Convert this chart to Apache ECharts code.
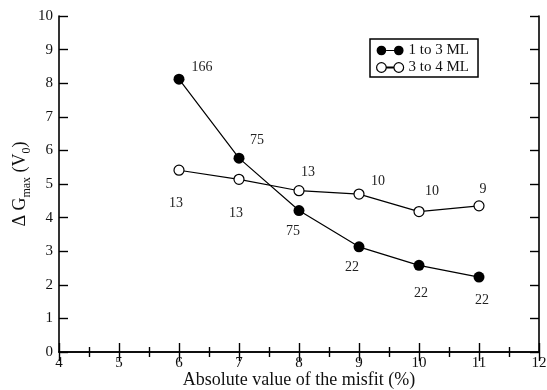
<!DOCTYPE html>
<html>
<head>
<meta charset="utf-8">
<script src="https://cdn.jsdelivr.net/npm/echarts@6/dist/echarts.min.js"></script>
<style>html,body{margin:0;padding:0;background:#fff}#c{width:547px;height:390px}</style>
</head>
<body>
<div id="c"></div>
<script>
// ---- data ----
const misfit = [6, 7, 8, 9, 10, 11];
const gA = [8.12, 5.77, 4.21, 3.13, 2.58, 2.23];   // 1 to 3 ML
const gB = [5.41, 5.14, 4.80, 4.70, 4.18, 4.35];   // 3 to 4 ML
const countsA = ['166', '75', '75', '22', '22', '22'];
const countsB = ['13', '13', '13', '10', '10', '9'];
const nameA = '1 to 3 ML';
const nameB = '3 to 4 ML';

// ---- layout (label offsets, px) ----
const offA = [[23,-12],[18,-18],[-6,21],[-7,20],[2,28],[3,23]];
const offB = [[-3,33],[-3,34],[9,-18],[19,-13],[13,-20],[4,-17]];

const FONT = 'Liberation Serif';
function build(ys, labels, offs) {
  return misfit.map((x, i) => ({
    value: [x, ys[i]],
    label: { show: true, position: 'inside', formatter: labels[i], offset: offs[i],
             fontFamily: FONT, fontSize: 14, color: '#222' }
  }));
}
const axisLine = { show: true, lineStyle: { color: '#000', width: 1.6 } };
const tick = { show: true, inside: true, length: 9, lineStyle: { color: '#000', width: 1.4 } };
const minor = { show: true, splitNumber: 2, length: 5, lineStyle: { color: '#000', width: 1.4 } };
const icon = 'path://M0,5 A5,5 0 1,0 10,5 A5,5 0 1,0 0,5 Z M18,5 A5,5 0 1,0 28,5 A5,5 0 1,0 18,5 Z M10,4.6 L18,4.6 L18,5.4 L10,5.4 Z';

const chart = echarts.init(document.getElementById('c'), null, { renderer: 'canvas' });
chart.setOption({
  animation: false,
  backgroundColor: '#fff',
  grid: { left: 59, right: 8, top: 16, bottom: 38, containLabel: false, outerBoundsMode: 'none' },
  legend: {
    orient: 'vertical', left: 370, top: 39,
    padding: [4, 9, 2, 6], itemGap: 2, itemWidth: 27, itemHeight: 10,
    borderColor: '#000', borderWidth: 1.5, borderRadius: 0,
    textStyle: { fontFamily: FONT, fontSize: 15, color: '#111', lineHeight: 15 },
    data: [
      { name: nameA, icon: icon, itemStyle: { color: '#000', borderColor: '#000', borderWidth: 0 } },
      { name: nameB, icon: icon, itemStyle: { color: '#fff', borderColor: '#000', borderWidth: 1.2 } }
    ]
  },
  xAxis: [
    { type: 'value', min: 4, max: 12, interval: 1, position: 'bottom',
      axisLine, axisTick: tick, minorTick: minor, splitLine: { show: false },
      axisLabel: { fontFamily: FONT, fontSize: 15, color: '#111', margin: 4 },
      name: 'Absolute value of the misfit (%)', nameLocation: 'middle', nameGap: 19,
      nameMoveOverlap: false,
      nameTextStyle: { fontFamily: FONT, fontSize: 18, color: '#111' } },
    { type: 'value', min: 4, max: 12, interval: 1, position: 'top',
      axisLine, axisTick: tick, minorTick: minor, splitLine: { show: false },
      axisLabel: { show: false } }
  ],
  yAxis: [
    { type: 'value', min: 0, max: 10, interval: 1, position: 'left',
      axisLine, axisTick: tick, splitLine: { show: false },
      axisLabel: { fontFamily: FONT, fontSize: 15, color: '#111', margin: 6 },
      name: '{a|\u0394 G}{s|max}{a| (V}{s|0}{a|)}', nameLocation: 'middle', nameGap: 26, nameRotate: 90,
      nameMoveOverlap: false,
      nameTextStyle: {
        fontFamily: FONT, color: '#111',
        rich: {
          a: { fontFamily: FONT, fontSize: 18, color: '#111', lineHeight: 24, verticalAlign: 'bottom', padding: [0,0,4,0] },
          s: { fontFamily: FONT, fontSize: 12, color: '#111', lineHeight: 14, verticalAlign: 'bottom', padding: [10,0,0,0] }
        }
      } },
    { type: 'value', min: 0, max: 10, interval: 1, position: 'right',
      axisLine, axisTick: tick, splitLine: { show: false },
      axisLabel: { show: false } }
  ],
  series: [
    { name: nameA, type: 'line', xAxisIndex: 0, yAxisIndex: 0,
      symbol: 'circle', symbolSize: 11,
      itemStyle: { color: '#000', borderColor: '#000', borderWidth: 0 },
      lineStyle: { color: '#000', width: 1.2 },
      data: build(gA, countsA, offA), z: 3 },
    { name: nameB, type: 'line', xAxisIndex: 0, yAxisIndex: 0,
      symbol: 'circle', symbolSize: 10,
      itemStyle: { color: '#fff', borderColor: '#000', borderWidth: 1.2 },
      lineStyle: { color: '#000', width: 1.2 },
      data: build(gB, countsB, offB), z: 2 }
  ]
});
</script>
</body>
</html>
